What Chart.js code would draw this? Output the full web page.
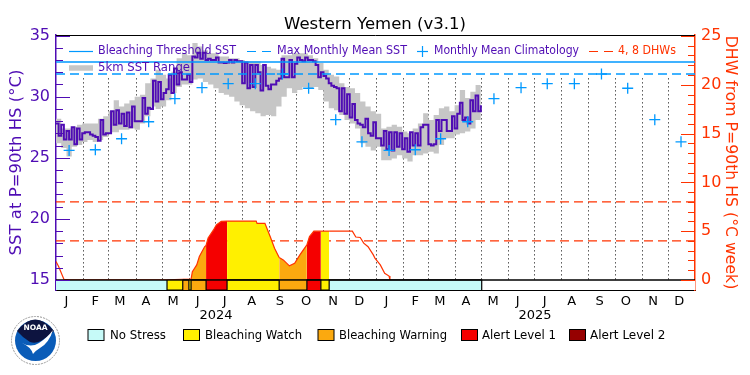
<!DOCTYPE html>
<html>
<head>
<meta charset="utf-8">
<title>Western Yemen (v3.1)</title>
<script src="https://cdn.jsdelivr.net/npm/chart.js@4"></script>
<style>
  body { margin: 0; background: #fff; }
  #wrap { position: relative; width: 750px; height: 375px; }
  #logo { position: absolute; left: 11px; top: 316px; }
</style>
</head>
<body>
<div id="wrap">
  <canvas id="grafico" width="750" height="375"></canvas>
  <svg id="logo" width="49" height="49" viewBox="0 0 49 49">
    <circle cx="24.5" cy="24.5" r="24" fill="#fff" stroke="#999" stroke-width="1" stroke-dasharray="2 1"/>
    <circle cx="24.5" cy="24.5" r="20.5" fill="#0a5cb8"/>
    <path d="M6 15 Q24 -8 43 15 Q38 20 30 25 Q24 28 19 26 Q12 22 6 15Z" fill="#0d1440"/>
    <path d="M11 27 Q20 32 28 27 Q36 22 42 14 Q38 27 29 32 Q24 35 22 38 Q20 31 11 27Z" fill="#fff"/>
    <text x="24.5" y="14" text-anchor="middle" font-family="DejaVu Sans" font-size="7.5" font-weight="bold" fill="#fff">NOAA</text>
  </svg>
</div>
<script>
// valores
const monthStartDays = [31, 60, 91, 121, 152, 182, 213, 244, 274, 305, 335, 366, 397, 425, 456, 486, 517, 547, 578, 609, 639, 670, 700];
const monthLabelDays = [12, 45, 73, 103, 134, 162, 193, 224, 256, 286, 317, 347, 378, 411, 439, 469, 500, 528, 559, 590, 622, 652, 683, 713];
const monthLabels = ['J', 'F', 'M', 'A', 'M', 'J', 'J', 'A', 'S', 'O', 'N', 'D', 'J', 'F', 'M', 'A', 'M', 'J', 'J', 'A', 'S', 'O', 'N', 'D'];
const yearDays = [183, 548];
const yearLabels = ['2024', '2025'];

const sstTicks = [15, 20, 25, 30, 35];
const sstMinorTicks = [16, 17, 18, 19, 21, 22, 23, 24, 26, 27, 28, 29, 31, 32, 33, 34];
const dhwTicks = [0, 5, 10, 15, 20, 25];
const dhwMinorTicks = [1, 2, 3, 4, 6, 7, 8, 9, 11, 12, 13, 14, 16, 17, 18, 19, 21, 22, 23, 24];

const bleachingThreshold = 32.84;
const maxMonthlyMean = 31.86;
const dhwLevels = [4, 8];

const climatologyDays = [15, 45, 75, 106, 136, 167, 197, 228, 259, 289, 320, 350, 381, 411, 440, 471, 501, 532, 562, 593, 624, 654, 685, 715];
const climatologyValues = [25.6, 25.66, 26.56, 27.95, 29.84, 30.74, 31.07, 31.07, 31.86, 30.69, 28.12, 26.31, 25.6, 25.66, 26.56, 27.95, 29.84, 30.74, 31.07, 31.07, 31.86, 30.69, 28.12, 26.31];

// un valor cada 3 dias desde el 1 de enero de 2024
const sstValues = [
  27.8, 26.8, 27.7, 26.5, 27.2, 26.5, 27.5, 26.1, 27.4, 26.5, 27.0, 27.1, 27.1, 26.9, 26.8, 26.7, 26.4, 28.1, 26.9, 27.0, 27.0,
  28.8, 27.7, 28.9, 27.8, 28.6, 27.6, 28.7, 27.5, 29.2, 28.0, 28.0, 28.0, 29.9, 28.6, 29.1, 29.0, 31.3, 29.6, 31.2, 29.8, 30.3,
  30.6, 31.8, 30.3, 32.3, 31.0, 32.0, 31.4, 31.4, 31.8, 31.2, 33.3, 33.2, 33.6, 33.1, 33.6, 33.0, 33.1, 33.0, 33.0, 33.2, 32.8,
  32.8, 32.75, 32.8, 33.0, 32.8, 33.0, 32.9, 32.9, 31.1, 32.8, 30.7, 32.6, 30.8, 32.6, 32.0, 30.5, 32.6, 30.9,
  30.6, 31.0, 31.0, 31.3, 31.5, 33.1, 31.6, 31.6, 33.0, 31.6, 32.7, 33.2, 33.0, 32.9, 33.2, 33.0, 33.0, 32.9, 32.6, 31.6, 32.0,
  31.7, 31.5, 31.1, 30.9, 30.8, 30.7, 28.8, 30.7, 28.6, 30.2, 28.3, 29.4, 28.1, 27.8, 27.7, 27.5, 28.2, 27.0, 26.8, 27.9,
  26.6, 26.6, 26.0, 27.2, 25.7, 27.1, 25.6, 27.1, 25.9, 27.0, 25.7, 26.6, 25.5, 27.1, 26.0, 27.0, 26.0, 27.5, 27.7, 27.7, 26.1,
  26.0, 26.1, 28.1, 27.2, 28.1, 28.1, 27.2, 27.2, 28.4, 27.4, 28.6, 29.5, 28.1, 28.3, 27.8, 29.7, 28.8, 30.1, 28.8, 29.3
];

// rango 5km, un valor cada 6 dias
const rangeUpper = [
  28.2, 27.4, 27.4, 27.55, 27.7, 27.8, 27.8, 27.8, 28.2, 28.4, 28.8, 29.7, 29.2, 29.45, 29.7, 30.0, 30.15, 31.1, 31.5, 32.2, 31.8,
  31.5, 32.05, 33.15, 33.55, 33.4, 34.4, 34.1, 33.8, 33.55, 33.55, 33.3, 33.3, 33.15, 33.15, 33.0, 32.9, 32.9, 32.9, 32.6, 32.45,
  32.3, 32.2, 33.4, 33.4, 33.55, 33.55, 33.55, 33.4, 33.15, 32.75, 32.2, 31.8, 31.65, 31.1, 30.8, 30.7, 30.3, 29.6, 29.2, 28.8,
  28.6, 27.4, 27.55, 27.7, 27.55, 27.15, 27.0, 27.4, 27.8, 28.65, 28.1, 28.5, 29.05, 29.2, 28.8, 29.3, 30.55, 29.9, 30.4, 30.95, 31.65
];
const rangeLower = [
  26.2, 25.8, 25.1, 25.9, 26.05, 26.3, 26.45, 26.3, 26.45, 26.7, 27.1, 27.1, 27.3, 27.3, 27.4, 27.3, 27.8, 28.4, 29.2, 29.0, 29.2,
  29.7, 30.3, 30.8, 31.0, 31.0, 31.4, 31.5, 31.2, 31.0, 30.7, 30.3, 30.15, 30.0, 29.6, 29.3, 29.05, 28.8, 28.65, 28.4, 28.5,
  28.4, 29.2, 30.0, 30.7, 30.3, 30.55, 30.8, 30.7, 30.8, 30.55, 29.6, 29.05, 28.9, 28.5, 28.1, 27.8, 27.4, 26.2, 25.9, 25.6,
  25.9, 24.8, 24.8, 24.95, 25.2, 24.95, 24.7, 25.2, 25.2, 25.35, 25.5, 25.35, 26.05, 26.6, 26.6, 26.9, 27.0, 27.15, 27.4, 28.1, 28.65
];

const dhwDays = [0, 3, 9, 16, 127, 145, 152, 154.5, 156, 161, 164, 170, 171.7, 174, 180, 183.5, 189, 195.7, 229, 230, 239, 245, 250, 255.3, 260, 267, 273, 279, 287, 290, 295, 303, 312.5, 339, 343, 348, 352, 357, 363, 365, 371, 376, 381, 382];
const dhwValues = [1.9, 1.37, 0.07, 0, 0, 0.07, 0.07, 0.07, 0.85, 1.54, 2.4, 3.4, 3.55, 4.3, 5.1, 5.65, 6.0, 6.03, 6.03, 5.8, 5.8, 4.45, 3.25, 2.3, 2.05, 1.44, 1.7, 2.57, 3.6, 4.45, 5.0, 5.0, 5.0, 5.0, 4.4, 4.35, 3.77, 3.4, 2.57, 2.2, 1.54, 0.68, 0.4, 0];

const stressDays = [0, 127, 145, 152, 154.5, 171.7, 195.7, 255.3, 287, 303, 312.5, 487, 731];
const stressLevels = ['none', 'watch', 'warning', 'watch', 'warning', 'alert1', 'watch', 'warning', 'alert1', 'watch', 'none', 'empty'];

const legendLabels = ['No Stress', 'Bleaching Watch', 'Bleaching Warning', 'Alert Level 1', 'Alert Level 2'];

// colores
const PURPLE = '#4F0CB4';
const ORANGE = '#FF3300';
const BLUE = '#0099FF';
const GREY = '#C6C6C6';
const stressColors = { none: '#C6FAF8', watch: '#FFF000', warning: '#FBA90F', alert1: '#F50000', alert2: '#960000', empty: '#FFFFFF' };
const legendColors = [stressColors.none, stressColors.watch, stressColors.warning, stressColors.alert1, stressColors.alert2];

const DAY_MAX = 731;
const SST_MIN = 14.18, SST_MAX = 35.05;
const DHW_MIN = -1.03, DHW_MAX = 25.1;

function levelAt(day) {
  let i = 0;
  while (i < stressLevels.length - 1 && day >= stressDays[i + 1]) i++;
  return stressLevels[i];
}

function toPoints(xs, ys) {
  return xs.map((x, i) => ({ x: x, y: ys[i] }));
}

function flatLine(value) {
  return [{ x: 0, y: value }, { x: DAY_MAX, y: value }];
}

// zigzag para las separaciones negras de la banda de estres
const stressEdges = stressDays.slice(1, -1).flatMap((d, i) =>
  i % 2 === 0 ? [{ x: d, y: 0 }, { x: d, y: DHW_MIN }] : [{ x: d, y: DHW_MIN }, { x: d, y: 0 }]);

// lineas punteadas de cada mes, van debajo de los datos
const monthLinesPlugin = {
  id: 'monthLines',
  beforeDatasetsDraw(chart) {
    const { ctx, scales } = chart;
    const top = scales.y.getPixelForValue(31.5);
    const bottom = scales.y2.getPixelForValue(0);
    ctx.save();
    ctx.strokeStyle = '#000';
    ctx.lineWidth = 1;
    ctx.setLineDash([1, 3]);
    monthStartDays.forEach(d => {
      const x = Math.round(scales.x.getPixelForValue(d)) + 0.5;
      ctx.beginPath();
      ctx.moveTo(x, top);
      ctx.lineTo(x, bottom);
      ctx.stroke();
    });
    ctx.restore();
  }
};

// ticks hacia adentro, leyendas y borde superior
const overlayPlugin = {
  id: 'overlay',
  afterDatasetsDraw(chart) {
    const { ctx, chartArea, scales } = chart;
    const left = chartArea.left, right = chartArea.right;

    function tick(scale, value, color, len, fromRight) {
      const y = Math.round(scale.getPixelForValue(value)) + 0.5;
      ctx.strokeStyle = color;
      ctx.lineWidth = 1;
      ctx.beginPath();
      ctx.moveTo(fromRight ? right : left, y);
      ctx.lineTo(fromRight ? right - len : left + len, y);
      ctx.stroke();
    }

    ctx.save();
    sstTicks.forEach(v => tick(scales.y, v, PURPLE, 14, false));
    sstMinorTicks.forEach(v => tick(scales.y, v, PURPLE, 7, false));
    dhwTicks.forEach(v => tick(scales.y2, v, ORANGE, 14, true));
    dhwMinorTicks.forEach(v => tick(scales.y2, v, ORANGE, 7, true));

    ctx.strokeStyle = '#000';
    ctx.lineWidth = 1;
    ctx.beginPath();
    ctx.moveTo(left, chartArea.top + 0.5);
    ctx.lineTo(right, chartArea.top + 0.5);
    ctx.stroke();

    // leyenda de arriba
    ctx.textBaseline = 'middle';
    ctx.textAlign = 'left';
    ctx.font = '12px "DejaVu Sans"';
    const sample = (x1, x2, y, color, dash, width) => {
      ctx.strokeStyle = color;
      ctx.lineWidth = width;
      ctx.setLineDash(dash);
      ctx.beginPath();
      ctx.moveTo(x1, y);
      ctx.lineTo(x2, y);
      ctx.stroke();
      ctx.setLineDash([]);
    };
    const label = (text, x, y, color, width) => {
      ctx.fillStyle = color;
      ctx.fillText(text, x, y, width);
    };
    sample(69, 93, 51.5, BLUE, [], 1.2);
    label('Bleaching Threshold SST', 98, 51, PURPLE, 138);
    sample(247, 271, 51.5, BLUE, [9, 6], 1.2);
    label('Max Monthly Mean SST', 277, 51, PURPLE, 130);
    sample(417, 428, 51.5, BLUE, [], 1.2);
    ctx.strokeStyle = BLUE;
    ctx.lineWidth = 1.2;
    ctx.beginPath();
    ctx.moveTo(422.5, 46);
    ctx.lineTo(422.5, 57);
    ctx.stroke();
    label('Monthly Mean Climatology', 434, 51, PURPLE, 145);
    sample(589, 613, 51.5, ORANGE, [9, 6], 1.2);
    label('4, 8 DHWs', 618, 51, ORANGE, 58);
    sample(69, 93, 68, GREY, [], 5.5);
    label('5km SST Range', 98, 68, PURPLE, 92);

    // leyenda de abajo
    const boxes = [88, 183.5, 318, 461.5, 569.5];
    const texts = [110, 205, 339, 482, 590];
    const widths = [56, 97, 108, 74, 76];
    legendLabels.forEach((t, i) => {
      ctx.fillStyle = legendColors[i];
      ctx.fillRect(boxes[i], 329.5, 16, 11);
      ctx.strokeStyle = '#000';
      ctx.lineWidth = 1;
      ctx.strokeRect(boxes[i], 329.5, 16, 11);
      label(t, texts[i], 336, '#000', widths[i]);
    });
    ctx.restore();
  }
};

new Chart(document.getElementById('grafico').getContext('2d'), {
  type: 'line',
  plugins: [monthLinesPlugin, overlayPlugin],
  data: {
    datasets: [
      {
        label: '5km SST Range',
        data: toPoints(rangeUpper.map((_, i) => i * 6), rangeUpper),
        stepped: true, borderWidth: 0, pointRadius: 0,
        backgroundColor: GREY, fill: '+1', order: 10, yAxisID: 'y'
      },
      {
        label: '5km SST Range (low)',
        data: toPoints(rangeLower.map((_, i) => i * 6), rangeLower),
        stepped: true, borderWidth: 0, pointRadius: 0, fill: false, order: 10, yAxisID: 'y'
      },
      {
        label: 'SST',
        data: toPoints(sstValues.map((_, i) => i * 3), sstValues),
        stepped: true, borderColor: PURPLE, borderWidth: 2, pointRadius: 0, fill: false, order: 9, yAxisID: 'y'
      },
      {
        label: 'Bleaching Threshold SST',
        data: flatLine(bleachingThreshold),
        borderColor: BLUE, borderWidth: 1.5, pointRadius: 0, fill: false, order: 8, yAxisID: 'y'
      },
      {
        label: 'Max Monthly Mean SST',
        data: flatLine(maxMonthlyMean),
        borderColor: BLUE, borderWidth: 1.5, borderDash: [9, 5], pointRadius: 0, fill: false, order: 8, yAxisID: 'y'
      },
      {
        label: '4 DHW',
        data: flatLine(dhwLevels[0]),
        borderColor: ORANGE, borderWidth: 1.4, borderDash: [9, 5], pointRadius: 0, fill: false, order: 7, yAxisID: 'y2'
      },
      {
        label: '8 DHW',
        data: flatLine(dhwLevels[1]),
        borderColor: ORANGE, borderWidth: 1.4, borderDash: [9, 5], pointRadius: 0, fill: false, order: 7, yAxisID: 'y2'
      },
      {
        label: 'DHW',
        data: toPoints(dhwDays, dhwValues),
        borderColor: ORANGE, borderWidth: 1.2, pointRadius: 0, tension: 0,
        fill: { value: 0 }, backgroundColor: 'rgba(0,0,0,0)',
        segment: {
          backgroundColor: c => {
            const lvl = levelAt(c.p0.parsed.x);
            return lvl === 'none' || lvl === 'empty' ? 'rgba(0,0,0,0)' : stressColors[lvl];
          }
        },
        order: 6, yAxisID: 'y2'
      },
      {
        label: 'Stress',
        data: toPoints(stressDays, stressDays.map(() => 0)),
        borderColor: '#000', borderWidth: 1.5, pointRadius: 0,
        fill: { value: DHW_MIN }, backgroundColor: stressColors.none,
        segment: { backgroundColor: c => stressColors[levelAt(c.p0.parsed.x)] },
        order: 3, yAxisID: 'y2'
      },
      {
        label: 'Stress edges',
        data: stressEdges,
        borderColor: '#000', borderWidth: 1.2, pointRadius: 0, fill: false, order: 2, yAxisID: 'y2'
      },
      {
        label: 'Monthly Mean Climatology',
        data: toPoints(climatologyDays, climatologyValues),
        showLine: false, pointStyle: 'cross', pointRadius: 5.5, pointBorderWidth: 1.3,
        borderColor: BLUE, backgroundColor: BLUE, order: 1, yAxisID: 'y'
      }
    ]
  },
  options: {
    responsive: false,
    animation: false,
    plugins: {
      legend: { display: false },
      tooltip: { enabled: false },
      title: {
        display: true,
        text: 'Western Yemen (v3.1)',
        color: '#000',
        font: { family: 'DejaVu Sans', size: 16.5, weight: 'normal', lineHeight: 1.2 },
        padding: { top: 15, bottom: 0.2 }
      }
    },
    scales: {
      x: {
        type: 'linear', position: 'bottom', min: 0, max: DAY_MAX, weight: 0,
        grid: { display: false, drawTicks: false },
        border: { color: '#000', width: 1 },
        afterBuildTicks: s => { s.ticks = monthLabelDays.map(v => ({ value: v })); },
        afterFit: s => { s.height = 18; },
        ticks: {
          autoSkip: false, maxRotation: 0, padding: 4, color: '#000',
          font: { family: 'DejaVu Sans', size: 13 },
          callback: v => monthLabels[monthLabelDays.indexOf(v)]
        }
      },
      xYear: {
        type: 'linear', position: 'bottom', min: 0, max: DAY_MAX, weight: 1,
        grid: { display: false, drawTicks: false },
        border: { display: false },
        afterBuildTicks: s => { s.ticks = yearDays.map(v => ({ value: v })); },
        afterFit: s => { s.height = 67; },
        ticks: {
          autoSkip: false, maxRotation: 0, padding: 0, color: '#000',
          font: { family: 'DejaVu Sans', size: 13 },
          callback: v => yearLabels[yearDays.indexOf(v)]
        }
      },
      y: {
        position: 'left', min: SST_MIN, max: SST_MAX,
        grid: { display: false, drawTicks: false },
        border: { color: PURPLE, width: 1.5 },
        afterBuildTicks: s => { s.ticks = sstTicks.map(v => ({ value: v })); },
        afterFit: s => { s.width = 56; },
        ticks: { color: PURPLE, padding: 6, font: { family: 'DejaVu Sans', size: 16 } },
        title: {
          display: true, text: 'SST at P=90th HS (°C)', color: PURPLE,
          font: { family: 'DejaVu Sans', size: 16.5 }, padding: { top: 7, bottom: 0 }
        }
      },
      y2: {
        position: 'right', min: DHW_MIN, max: DHW_MAX,
        grid: { display: false, drawTicks: false },
        border: { color: ORANGE, width: 1.5 },
        afterBuildTicks: s => { s.ticks = dhwTicks.map(v => ({ value: v })); },
        afterFit: s => { s.width = 55; },
        ticks: { color: ORANGE, padding: 6, font: { family: 'DejaVu Sans', size: 16 } },
        title: {
          display: true, text: 'DHW from P=90th HS (°C week)', color: ORANGE,
          font: { family: 'DejaVu Sans', size: 15.7 }, padding: { top: 11, bottom: 0 }
        }
      }
    }
  }
});
</script>
</body>
</html>
